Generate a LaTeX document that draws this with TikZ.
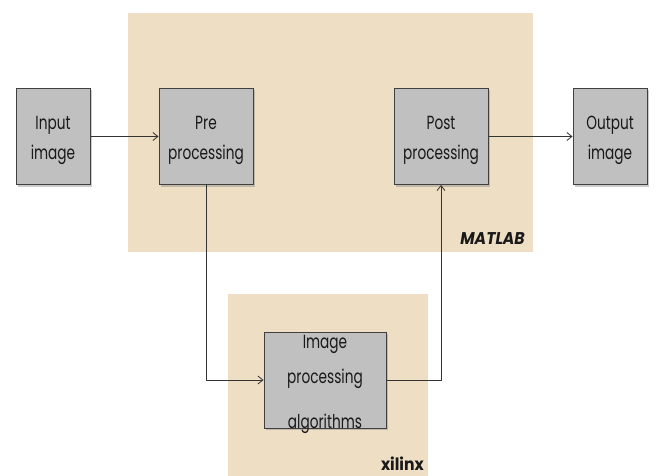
\documentclass[tikz,border=0pt]{standalone}
\usepackage{fontspec}
\setmainfont{Poppins}
\newfontfamily\narrowfont[FakeStretch=0.72]{Poppins}
\newfontfamily\tagfont[FakeStretch=0.92]{Poppins}
\usepackage{xcolor}
\usetikzlibrary{positioning,shadows,arrows.meta}
\definecolor{regionfill}{RGB}{238,222,196}
\definecolor{blockfill}{RGB}{192,192,192}
\definecolor{blockline}{RGB}{64,64,64}
\newcommand{\lift}{\rule{0pt}{21pt}}
\tikzstyle{block}=[rectangle, draw=blockline, line width=1pt, fill=blockfill,
        drop shadow={shadow xshift=1.5pt, shadow yshift=-2pt, opacity=0.4},
        text centered, align=center, minimum height=96pt, inner sep=0pt,
        font=\narrowfont\fontsize{19}{30}\selectfont, text=black!90]
\tikzstyle{region}=[fill=regionfill, draw=none]
\tikzstyle{platform}=[anchor=south east, inner sep=0pt, text=black!90]
\tikzstyle{flow}=[draw=black!80, line width=0.8pt, -{Straight Barb[length=5pt,width=8pt]}]

\begin{document}
\begin{tikzpicture}[x=1pt, y=-1pt]
        \useasboundingbox (0,0) rectangle (656,476);
        % platforms
        \fill[region] (128,13) rectangle (533,252);
        \fill[region] (228,294) rectangle (428,476);
        \node (matlab) [platform, font=\tagfont\bfseries\itshape\fontsize{17}{19}\selectfont] at (525,245) {MATLAB};
        \node (xilinx) [platform, font=\tagfont\bfseries\fontsize{17}{19}\selectfont] at (424,471) {xilinx};
        % blocks
        \node (input) [block, minimum width=74pt] at (53,136.5) {\lift Input\\image};
        \node (pre) [block, right=68pt of input, minimum width=94pt] {\lift Pre\\processing};
        \node (post) [block, right=140pt of pre, minimum width=94pt] {\lift Post\\processing};
        \node (output) [block, right=84pt of post, minimum width=74pt] {\lift Output\\image};
        \node (algo) [block, minimum width=122pt] at (325,380)
        {\parbox[c][96pt][t]{122pt}{\centering\fontsize{19}{35}\selectfont
          \rule{0pt}{16pt}Image\\processing\\[10pt]algorithms}};
        % connections
        \draw[flow] (input) -- (pre);
        \draw[flow] (post) -- (output);
        \draw[flow] (pre.south) |- (algo.west);
        \draw[flow] (algo.east) -| (post.south);
      \end{tikzpicture}
\end{document}
